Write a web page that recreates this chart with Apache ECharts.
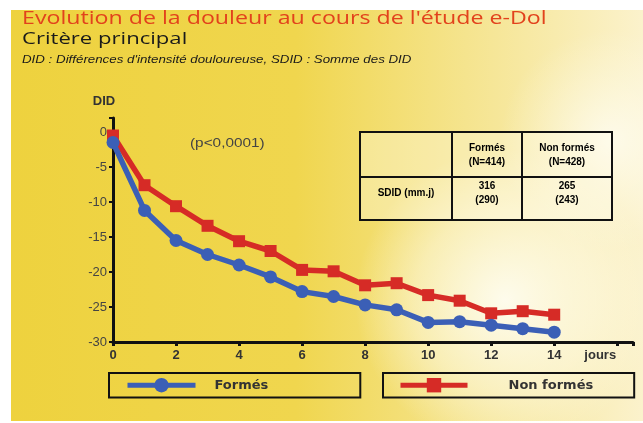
<!DOCTYPE html>
<html>
<head>
<meta charset="utf-8">
<script src="https://cdn.jsdelivr.net/npm/echarts@6/dist/echarts.min.js"></script>
<style>
  html, body { margin: 0; padding: 0; background: #ffffff; }
  #chart { width: 643px; height: 423px; }
</style>
</head>
<body>
<div id="chart"></div>
<script>
// jours 0..14
var days = [0, 1, 2, 3, 4, 5, 6, 7, 8, 9, 10, 11, 12, 13, 14];
var formes = [-1.5, -11.2, -15.5, -17.5, -19, -20.7, -22.8, -23.5, -24.7, -25.4, -27.2, -27.1, -27.6, -28.1, -28.6];
var nonFormes = [-0.5, -7.6, -10.6, -13.4, -15.6, -17, -19.7, -19.9, -21.9, -21.6, -23.3, -24.1, -25.9, -25.6, -26.1];
var seriesNames = ["Formés", "Non formés"];

// tableau SDID
var tableHead = ["Formés\n(N=414)", "Non formés\n(N=428)"];
var tableRowLabel = "SDID (mm.j)";
var tableRow = ["316\n(290)", "265\n(243)"];

var chart = echarts.init(document.getElementById("chart"));

function pairs(vals) {
  return vals.map(function (v, i) { return [days[i], v]; });
}

var txt = { fontFamily: "Liberation Sans", color: "#333", fontSize: 10, fontWeight: "bold", align: "center", verticalAlign: "middle", lineHeight: 14 };

var option = {
  animation: false,
  backgroundColor: "#ffffff",
  graphic: [
    // fond jaune
    {
      type: "rect", z: -10, silent: true,
      shape: { x: 11, y: 10, width: 632, height: 411 },
      style: {
        fill: new echarts.graphic.LinearGradient(0, 0, 1, 0, [
          { offset: 0, color: "#eed23e" },
          { offset: 0.45, color: "#f0d64e" },
          { offset: 0.72, color: "#f5e48e" },
          { offset: 1, color: "#fbf2cc" }
        ])
      }
    },
    {
      type: "circle", z: -9, silent: true,
      shape: { cx: 505, cy: 300, r: 150 },
      style: {
        fill: new echarts.graphic.RadialGradient(0.5, 0.5, 0.5, [
          { offset: 0, color: "rgba(255,255,250,0.85)" },
          { offset: 0.6, color: "rgba(255,253,240,0.45)" },
          { offset: 1, color: "rgba(255,253,240,0)" }
        ])
      }
    },
    {
      type: "circle", z: -9, silent: true,
      shape: { cx: 610, cy: 140, r: 110 },
      style: {
        fill: new echarts.graphic.RadialGradient(0.5, 0.5, 0.5, [
          { offset: 0, color: "rgba(255,255,250,0.7)" },
          { offset: 1, color: "rgba(255,253,240,0)" }
        ])
      }
    },
    // titres
    {
      type: "text", x: 22, y: 9, scaleX: 1.22,
      style: { text: "Evolution de la douleur au cours de l'étude e-Dol", fill: "#e2421c", font: "19px 'Open Sans'" }
    },
    {
      type: "text", x: 22, y: 31, scaleX: 1.3,
      style: { text: "Critère principal", fill: "#1a1a1a", font: "17px 'Open Sans'" }
    },
    {
      type: "text", x: 22, y: 54, scaleX: 1.21,
      style: { text: "DID : Différences d'intensité douloureuse, SDID : Somme des DID", fill: "#1a1a1a", font: "italic 11px 'Liberation Sans'" }
    },
    {
      type: "text", x: 190, y: 137, scaleX: 1.18,
      style: { text: "(p<0,0001)", fill: "#444", font: "13px 'Liberation Sans'" }
    },
    // tableau
    {
      type: "group",
      children: [
        { type: "rect", shape: { x: 360, y: 132, width: 252, height: 88 }, style: { fill: "rgba(255,252,235,0.35)", stroke: "#111", lineWidth: 2 } },
        { type: "line", shape: { x1: 452, y1: 132, x2: 452, y2: 220 }, style: { stroke: "#111", lineWidth: 2 } },
        { type: "line", shape: { x1: 522, y1: 132, x2: 522, y2: 220 }, style: { stroke: "#111", lineWidth: 2 } },
        { type: "line", shape: { x1: 360, y1: 177, x2: 612, y2: 177 }, style: { stroke: "#111", lineWidth: 2 } },
        { type: "text", x: 487, y: 155, style: Object.assign({ text: tableHead[0] }, txt) },
        { type: "text", x: 567, y: 155, style: Object.assign({ text: tableHead[1] }, txt) },
        { type: "text", x: 406, y: 193, style: Object.assign({ text: tableRowLabel }, txt) },
        { type: "text", x: 487, y: 193, style: Object.assign({ text: tableRow[0] }, txt) },
        { type: "text", x: 567, y: 193, style: Object.assign({ text: tableRow[1] }, txt) }
      ]
    }
  ],
  legend: [
    {
      data: [seriesNames[0]],
      left: 109, top: 373,
      borderColor: "#111", borderWidth: 2,
      padding: [5, 92, 5, 16],
      itemWidth: 68, itemHeight: 18,
      lineStyle: { width: 5 },
      textStyle: { fontFamily: "DejaVu Sans", fontSize: 13, fontWeight: "bold", color: "#333", padding: [0, 0, 0, 14] }
    },
    {
      data: [seriesNames[1]],
      left: 383, top: 373,
      borderColor: "#111", borderWidth: 2,
      padding: [5, 41, 5, 15],
      itemWidth: 67, itemHeight: 18,
      lineStyle: { width: 5 },
      textStyle: { fontFamily: "DejaVu Sans", fontSize: 13, fontWeight: "bold", color: "#333", padding: [0, 0, 0, 36] }
    }
  ],
  grid: { left: 113, right: 10, top: 118, bottom: 81 },
  xAxis: {
    type: "value",
    min: 0, max: 16.5, interval: 2,
    axisLine: { onZero: false, lineStyle: { color: "#111", width: 3 } },
    axisTick: { length: 4, lineStyle: { color: "#111", width: 3 } },
    splitLine: { show: false },
    axisLabel: {
      margin: 7,
      fontFamily: "Liberation Sans", fontSize: 13, fontWeight: "bold", color: "#333",
      formatter: function (v) {
        if (v === 16) return "{j|jours}";
        if (v % 2 !== 0) return "";
        return String(v);
      },
      rich: { j: { fontFamily: "Liberation Sans", fontSize: 13, fontWeight: "bold", color: "#333", padding: [0, 34, 0, 0] } }
    }
  },
  yAxis: {
    type: "value",
    min: -30, max: 2, interval: 5,
    name: "DID",
    nameGap: 10,
    nameTextStyle: { fontFamily: "Liberation Sans", fontSize: 13, fontWeight: "bold", color: "#333", padding: [0, 18, 0, 0] },
    axisLine: { lineStyle: { color: "#111", width: 3 } },
    axisTick: { length: 4, lineStyle: { color: "#111", width: 2 } },
    splitLine: { show: false },
    axisLabel: {
      margin: 6,
      fontFamily: "Liberation Sans", fontSize: 13, color: "#444",
      formatter: function (v) { return v % 5 === 0 ? String(v) : ""; }
    }
  },
  series: [
    {
      name: seriesNames[0],
      type: "line",
      data: pairs(formes),
      symbol: "circle", symbolSize: 13,
      itemStyle: { color: "#3b5fb6" },
      lineStyle: { color: "#3b5fb6", width: 5.5 },
      z: 3
    },
    {
      name: seriesNames[1],
      type: "line",
      data: pairs(nonFormes),
      symbol: "rect", symbolSize: 12,
      itemStyle: { color: "#d62b26" },
      lineStyle: { color: "#d62b26", width: 5.5 },
      z: 2
    }
  ]
};

chart.setOption(option);
</script>
</body>
</html>
